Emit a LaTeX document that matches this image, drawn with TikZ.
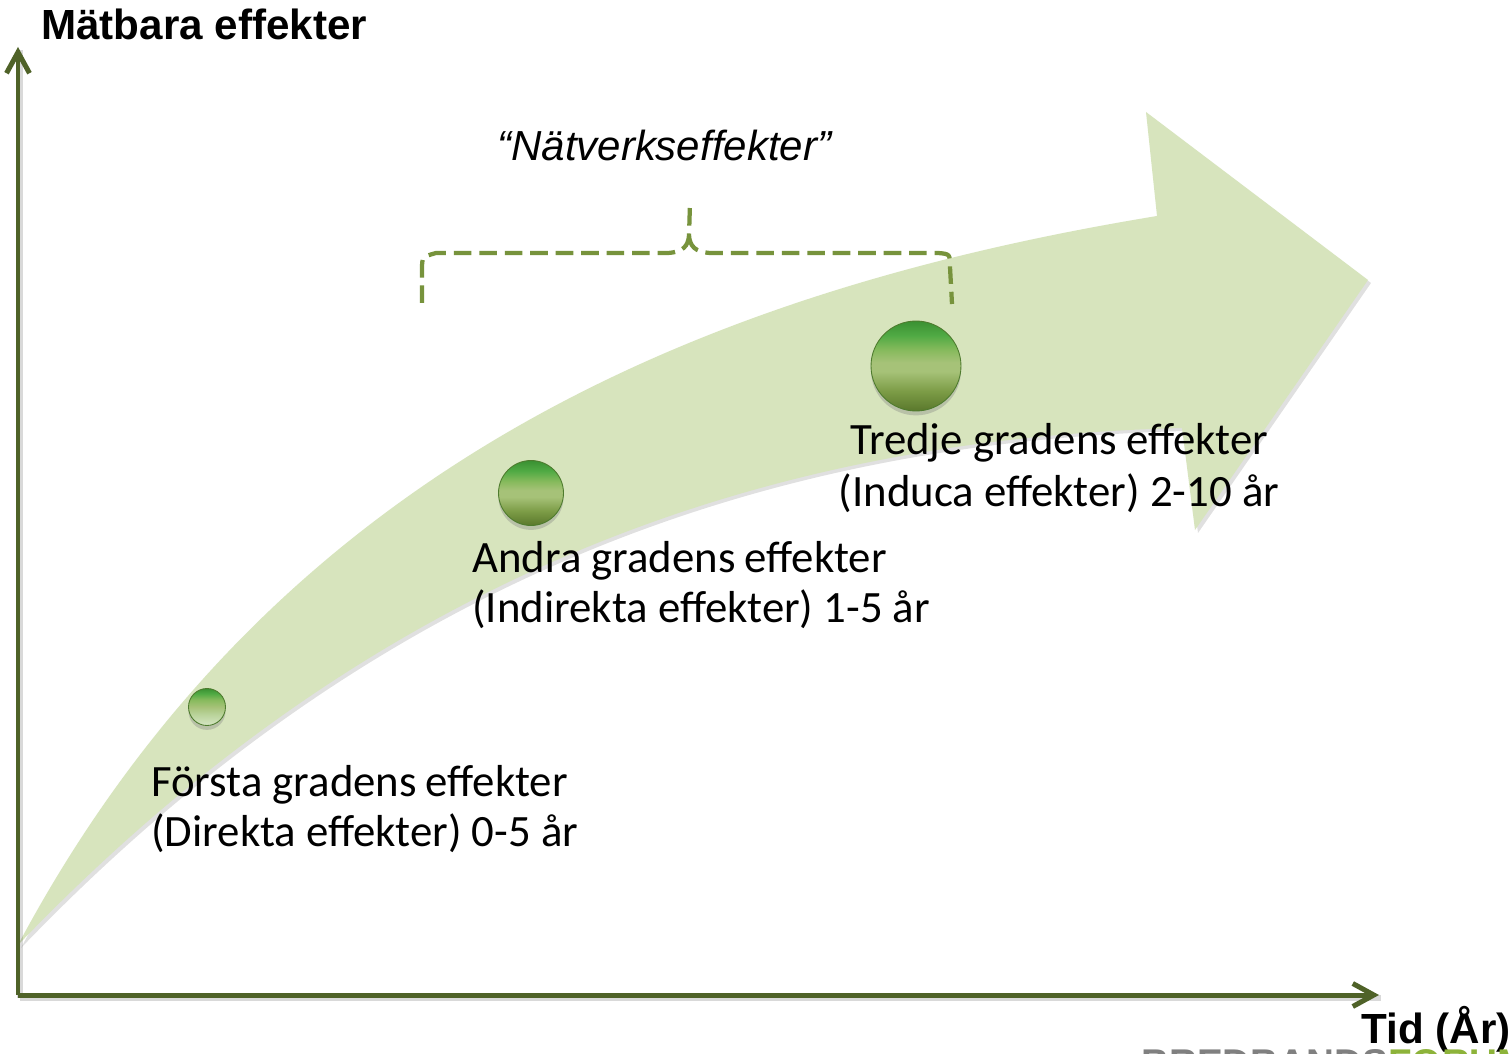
\documentclass[tikz,border=0pt]{standalone}
\usepackage{fontspec}
\setmainfont{Carlito}
\newfontfamily\arialf{Liberation Sans}
\usetikzlibrary{arrows.meta,shadows}
\definecolor{axisgreen}{HTML}{4F6228}
\definecolor{shaftgreen}{HTML}{D7E4BD}
\definecolor{bracegreen}{HTML}{77933C}
\definecolor{ballrim}{HTML}{4E7B2E}
\definecolor{logogray}{HTML}{808080}
\definecolor{logogreen}{HTML}{8DB33A}
\definecolor{bA}{HTML}{5A782C}
\definecolor{bB}{HTML}{7C9C46}
\definecolor{bC}{HTML}{A6C278}
\definecolor{bD}{HTML}{86BA5C}
\definecolor{bE}{HTML}{50AA44}
\definecolor{bF}{HTML}{3A9032}
\definecolor{gA}{HTML}{D6E6C4}
\definecolor{gB}{HTML}{B9D39A}
\pgfdeclareverticalshading{ballshade}{100bp}{color(0bp)=(bA); color(25bp)=(bA); color(36bp)=(bB); color(47bp)=(bC); color(52bp)=(bC); color(59bp)=(bD); color(67bp)=(bE); color(75bp)=(bF); color(100bp)=(bF)}
\pgfdeclareverticalshading{glassshade}{100bp}{color(0bp)=(gA); color(25bp)=(gA); color(40bp)=(gB); color(50bp)=(bC); color(60bp)=(bD); color(68bp)=(bE); color(75bp)=(bF); color(100bp)=(bF)}
\begin{document}
\begin{tikzpicture}[x=0.02cm,y=-0.02cm,
  axisline/.style={draw=axisgreen,line width=0.1cm,line join=round,
    -{Straight Barb[length=0.42cm,width=0.46cm,line width=0.1cm]}},
  axisshadow/.style={draw=black,opacity=0.15,line width=0.12cm},
  ball/.style={circle,inner sep=0pt,draw=ballrim,line width=0.5pt,shading=ballshade,
    drop shadow={opacity=0.35,shadow xshift=0pt,shadow yshift=-2.5pt}},
  bracepath/.style={draw=bracegreen,line width=0.085cm,dash pattern=on 10pt off 4.5pt,line cap=butt},
  labeltext/.style={inner sep=0pt,font=\fontsize{25.5}{30}\selectfont},
  axistitle/.style={inner sep=0pt,font=\arialf\bfseries\fontsize{24}{28}\selectfont}]
\useasboundingbox (0,0) rectangle (1509,1054);
\fill[white] (0,0) rectangle (1509,1054);

% big curved arrow
\fill[black,opacity=0.12,shift={(3,3)}]
  (18,945) .. controls (276,461) and (713,289) .. (1157,216) -- (1146,112) -- (1368,280)
  -- (1195,530) -- (1182,428) .. controls (700,440) and (330,620) .. (18,945) -- cycle;
\fill[shaftgreen]
  (18,945) .. controls (276,461) and (713,289) .. (1157,216) -- (1146,112) -- (1368,280)
  -- (1195,530) -- (1182,428) .. controls (700,440) and (330,620) .. (18,945) -- cycle;

% axes
\coordinate (origin) at (18,995);
\coordinate (ytip) at (18,47);
\coordinate (xtip) at (1379,995);
\draw[axisshadow] ([shift={(2,3)}]origin) -- ([shift={(2,3)}]xtip);
\draw[axisshadow] ([shift={(2,3)}]origin) -- ([shift={(2,3)}]ytip);
\draw[axisline] (origin) -- (ytip);
\draw[axisline] (origin) -- (xtip);

% balls
\node[ball,shading=glassshade,minimum size=0.74cm] (b1) at (207,707) {};
\node[ball,minimum size=1.3cm] (b2) at (531,493) {};
\node[ball,minimum size=1.8cm] (b3) at (916,366) {};

% brace
\draw[bracepath] (422,303) -- (422,270) .. controls (422,257) .. (436,253) -- (668,253)
  .. controls (683,252) and (688,246) .. (689,236) -- (690,203);
\draw[bracepath] (689,236) .. controls (690,246) and (695,252) .. (710,253) -- (938,253)
  .. controls (950,254) .. (950,267) -- (952,304);

% texts
\node[axistitle,anchor=base west] (ytitle) at (41,40) {Mätbara effekter};
\node[axistitle,anchor=base west] (xtitle) at (1361,1043) {Tid (År)};
\node[inner sep=0pt,anchor=base west,font=\arialf\itshape\fontsize{23.9}{28}\selectfont] (natv) at (497,161) {“Nätverkseffekter”};

\node[labeltext,anchor=base west] (f1) at (151,796) {Första gradens\hspace{0.2em}effekter};
\node[labeltext,anchor=base west] (f2) at (151,846) {(Direkta effekter) 0-5 år};
\node[labeltext,anchor=base west] (a1) at (472,572) {Andra gradens\hspace{0.2em}effekter};
\node[labeltext,anchor=base west] (a2) at (472,622) {(Indirekta effekter) 1-5 år};
\node[labeltext,anchor=base] (t1) at (1059,455) {Tredje gradens\hspace{0.2em}effekter};
\node[labeltext,anchor=base] (t2) at (1059,506) {(Induca effekter) 2-10 år};

% logo, cut by the lower edge
\begin{scope}
\clip (0,0) rectangle (1509,1054);
\node[inner sep=0pt,anchor=base west,font=\arialf\bfseries\fontsize{22}{26}\selectfont] (logo) at (1141,1076)
  {\textcolor{logogray}{BREDBANDS}\textcolor{logogreen}{FORUM}};
\end{scope}
\end{tikzpicture}
\end{document}
